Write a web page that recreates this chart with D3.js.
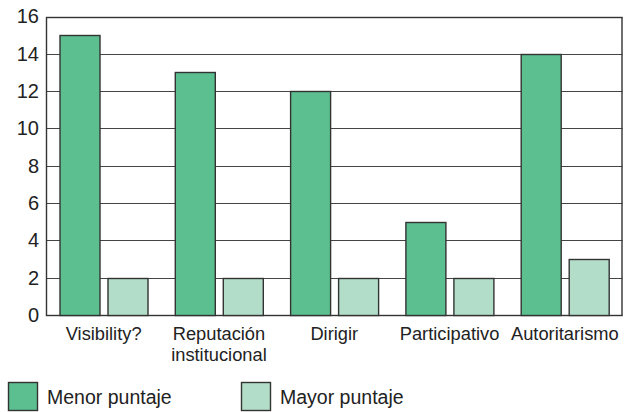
<!DOCTYPE html>
<html>
<head>
<meta charset="utf-8">
<script src="https://cdn.jsdelivr.net/npm/d3@7"></script>
<style>
  body { margin: 0; background: #fff; }
  text { font-family: "Liberation Sans", Arial, sans-serif; fill: #222; }
</style>
</head>
<body>
<script>
var categories = ["Visibility?", "Reputación\ninstitucional", "Dirigir", "Participativo", "Autoritarismo"];
var series = ["Menor puntaje", "Mayor puntaje"];
var menor = [15, 13, 12, 5, 14];
var mayor = [2, 2, 2, 2, 3];
var yTicks = [0, 2, 4, 6, 8, 10, 12, 14, 16];
var colors = ["#5bbf90", "#b2dec9"];

var W = 625, H = 412;
var m = { left: 46, right: 2.5, top: 16.5, bottom: 97 };

var svg = d3.select("body").append("svg")
	.attr("width", W)
	.attr("height", H);

var x = d3.scaleBand()
	.domain(categories)
	.range([m.left, W - m.right])
	.padding(0);

var xs = d3.scaleBand()
	.domain(series)
	.range([14, 102])
	.paddingInner(8 / 48);

var y = d3.scaleLinear()
	.domain([0, 16])
	.range([H - m.bottom, m.top]);

// gridlines
svg.append("g")
	.selectAll("line")
	.data(yTicks)
	.enter().append("line")
		.attr("x1", m.left)
		.attr("x2", W - m.right)
		.attr("y1", function(d) { return Math.round(y(d)) + 0.5; })
		.attr("y2", function(d) { return Math.round(y(d)) + 0.5; })
		.attr("stroke", "#444")
		.attr("stroke-width", 1.2);

// frame
svg.append("rect")
	.attr("x", m.left + 0.5)
	.attr("y", Math.round(y(16)) + 0.5)
	.attr("width", W - m.right - m.left - 1)
	.attr("height", Math.round(y(0)) - Math.round(y(16)))
	.attr("fill", "none")
	.attr("stroke", "#333")
	.attr("stroke-width", 1.4);

var rows = categories.map(function(c, i) {
	return [{ cat: c, s: series[0], v: menor[i], k: 0 }, { cat: c, s: series[1], v: mayor[i], k: 1 }];
});

svg.append("g")
	.selectAll("g")
	.data(rows)
	.enter().append("g")
		.attr("transform", function(d) { return "translate(" + x(d[0].cat) + ",0)"; })
	.selectAll("rect")
	.data(function(d) { return d; })
	.enter().append("rect")
		.attr("x", function(d) { return xs(d.s); })
		.attr("width", xs.bandwidth())
		.attr("y", function(d) { return Math.round(y(d.v)) + 0.5; })
		.attr("height", function(d) { return Math.round(y(0)) - Math.round(y(d.v)); })
		.attr("fill", function(d) { return colors[d.k]; })
		.attr("stroke", "#333")
		.attr("stroke-width", 1.4);

// y axis labels
var yAxis = svg.append("g")
	.attr("transform", "translate(" + m.left + ",0)")
	.call(d3.axisLeft(y).tickValues(yTicks).tickSize(0).tickPadding(7));
yAxis.select(".domain").remove();
yAxis.selectAll("text")
	.attr("font-size", 20)
	.attr("font-family", "Liberation Sans, Arial, sans-serif")
	.attr("fill", "#222");

// category labels
svg.append("g")
	.selectAll("text")
	.data(categories)
	.enter().append("text")
		.attr("x", function(d) { return x(d) + x.bandwidth() / 2; })
		.attr("y", 340)
		.attr("text-anchor", "middle")
		.attr("font-size", 18.3)
	.selectAll("tspan")
	.data(function(d) { return d.split("\n"); })
	.enter().append("tspan")
		.attr("x", function() { var p = this.parentNode.__data__; return x(p) + x.bandwidth() / 2; })
		.attr("dy", function(d, i) { return i ? 21 : 0; })
		.text(function(d) { return d; });

// legend
var legendX = [8, 241];
var lg = svg.append("g")
	.selectAll("g")
	.data(series)
	.enter().append("g")
		.attr("transform", function(d, i) { return "translate(" + legendX[i] + ",382)"; });
lg.append("rect")
	.attr("x", 0.5)
	.attr("y", 0.5)
	.attr("width", 29)
	.attr("height", 28)
	.attr("fill", function(d, i) { return colors[i]; })
	.attr("stroke", "#333")
	.attr("stroke-width", 1.4);
lg.append("text")
	.attr("x", 39)
	.attr("y", 22)
	.attr("font-size", 19.5)
	.text(function(d) { return d; });
</script>
</body>
</html>
